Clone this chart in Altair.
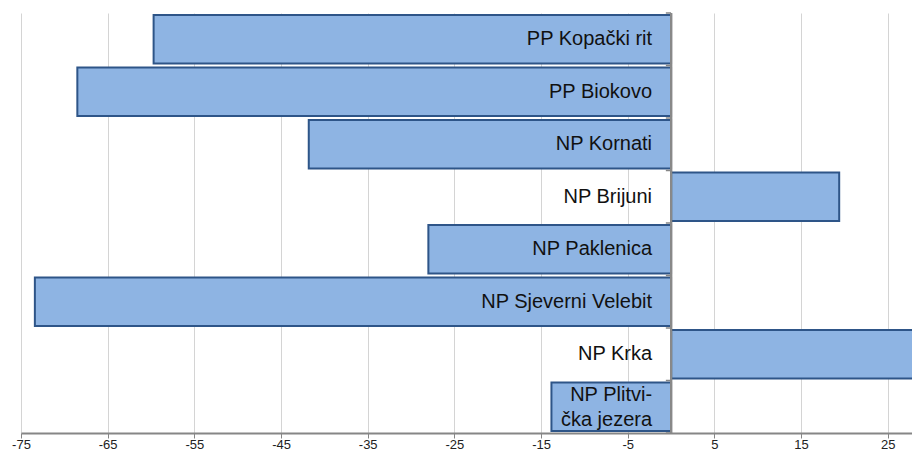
import altair as alt
import pandas as pd

categories = ["PP Kopački rit", "PP Biokovo", "NP Kornati", "NP Brijuni",
              "NP Paklenica", "NP Sjeverni Velebit", "NP Krka", "NP Plitvička jezera"]
label_text = ["PP Kopački rit", "PP Biokovo", "NP Kornati", "NP Brijuni",
              "NP Paklenica", "NP Sjeverni Velebit", "NP Krka", "NP Plitvi-\nčka jezera"]
values = [-59.7, -68.5, -41.8, 19.4, -28.0, -73.4, 31.0, -13.8]
tick_values = [-75, -65, -55, -45, -35, -25, -15, -5, 5, 15, 25]
boundaries = list(range(len(categories) + 1))

df = pd.DataFrame({"cat": categories, "value": values, "label": label_text,
                   "zero": [0] * len(categories),
                   "lines": [1, 1, 1, 1, 1, 1, 1, 2]})
bdf = pd.DataFrame({"b": boundaries})

x_scale = alt.Scale(domain=[-75, 27.8], nice=False, zero=False)
y_scale = alt.Scale(domain=categories, paddingInner=0.08, paddingOuter=0.04)

base = alt.Chart(df)

bars = base.mark_bar(fill="#8EB4E3", stroke="#2E5588", strokeWidth=2, clip=True).encode(
    x=alt.X("value:Q", scale=x_scale,
            axis=alt.Axis(values=tick_values, title=None, grid=True, gridColor="#d4d4d4",
                          gridWidth=1, domainColor="#868686", domainWidth=2,
                          tickColor="#868686", tickSize=5, tickWidth=1,
                          labelPadding=0, labelFontSize=13, labelColor="#222222",
                          labelFlush=False,
                          labelFont="Liberation Sans", labelExpr="'' + datum.value")),
    x2=alt.X2("zero:Q"),
    y=alt.Y("cat:N", scale=y_scale, axis=None, sort=categories),
)

zero_rule = base.mark_rule(color="#898989", strokeWidth=2).encode(
    x=alt.X("zero:Q", scale=x_scale),
)

labels_single = base.transform_filter("datum.lines == 1").mark_text(
    align="right", baseline="middle", dx=-19, fontSize=20,
    font="Liberation Sans", color="#111111").encode(
    x=alt.X("zero:Q", scale=x_scale),
    y=alt.Y("cat:N", scale=y_scale, sort=categories, axis=None),
    text="label:N",
)

labels_multi = base.transform_filter("datum.lines == 2").mark_text(
    align="right", baseline="middle", dx=-19, dy=-12, fontSize=20,
    font="Liberation Sans", color="#111111", lineBreak="\n", lineHeight=25).encode(
    x=alt.X("zero:Q", scale=x_scale),
    y=alt.Y("cat:N", scale=y_scale, sort=categories, axis=None),
    text="label:N",
)

cat_ticks = alt.Chart(bdf).mark_rule(color="#868686", strokeWidth=1.5).encode(
    x=alt.datum(0, scale=x_scale),
    x2=alt.datum(-0.6),
    y=alt.Y("b:Q", scale=alt.Scale(domain=[0, len(categories)], range=[0, 420], nice=False, zero=False), axis=None),
)

chart = alt.layer(bars, cat_ticks, zero_rule, labels_single, labels_multi).resolve_scale(
    y="independent"
).properties(
    width=891, height=420,
    padding={"left": 13, "top": 5, "right": 0, "bottom": 23},
    autosize=alt.AutoSizeParams(type="none"),
).configure_view(stroke=None)

chart.save("out.html", embed_options={"renderer": "svg", "actions": False})
